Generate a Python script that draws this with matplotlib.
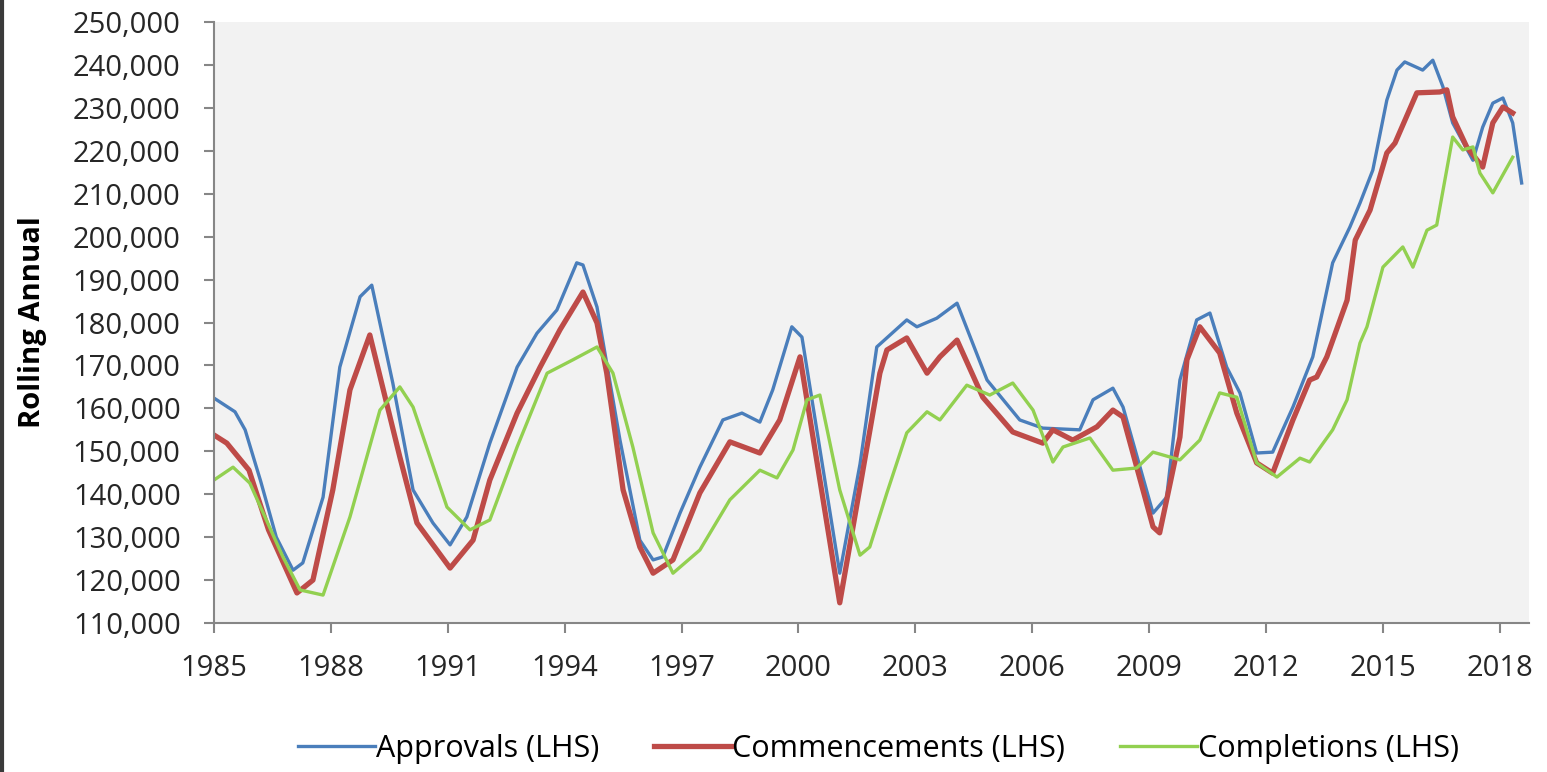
import matplotlib
matplotlib.use("Agg")
import matplotlib.pyplot as plt
from matplotlib.ticker import FuncFormatter

# valori (anni frazionari, migliaia di abitazioni)
appr_year = [1985.0, 1985.54, 1985.8, 1986.2, 1986.6, 1987.03, 1987.28, 1987.80, 1988.23,
             1988.75, 1989.05, 1989.59, 1990.11, 1990.62, 1991.06, 1991.49, 1992.08,
             1992.78, 1993.29, 1993.80, 1994.31, 1994.47, 1994.83, 1995.42, 1995.93,
             1996.27, 1996.52, 1996.96, 1997.47, 1998.06, 1998.55, 1999.01, 1999.34,
             1999.83, 2000.09, 2001.06, 2001.58, 2002.01, 2002.78, 2003.04, 2003.55,
             2004.07, 2004.84, 2005.68, 2006.27, 2007.22, 2007.56, 2008.07, 2008.33,
             2009.10, 2009.45, 2009.79, 2010.22, 2010.56, 2010.99, 2011.33, 2011.76,
             2012.17, 2012.69, 2013.20, 2013.71, 2014.15, 2014.41, 2014.74, 2015.10,
             2015.36, 2015.56, 2016.02, 2016.28, 2016.54, 2016.79, 2017.31, 2017.56,
             2017.82, 2018.08, 2018.33, 2018.56]
appr_val = [162.4, 159.2, 155, 143, 130, 122.3, 124, 139.3, 169.6,
            186, 188.7, 165.9, 141, 133.3, 128.2, 134.7, 151.9,
            169.6, 177.5, 182.9, 193.9, 193.4, 183.6, 152.6, 129.3,
            124.7, 125.4, 135.6, 146.3, 157.3, 158.9, 156.8, 164.3,
            179, 176.6, 121.6, 147, 174.3, 180.6, 179, 181,
            184.5, 166.6, 157.3, 155.4, 155, 162, 164.7, 160.3,
            135.6, 139.3, 166.6, 180.6, 182.2, 169.6, 163.6, 149.6,
            149.8, 160.3, 172, 193.9, 202.2, 207.8, 215.5, 231.8,
            238.8, 240.7, 238.8, 241.1, 234.9, 226.5, 217.8, 225.5,
            231.1, 232.3, 226.5, 212.5]

comm_year = [1985.0, 1985.33, 1985.9, 1986.4, 1987.13, 1987.54, 1988.05, 1988.49, 1989.0,
             1989.77, 1990.21, 1991.06, 1991.65, 1992.08, 1992.78, 1993.37, 1993.88,
             1994.47, 1994.83, 1995.08, 1995.50, 1995.93, 1996.27, 1996.78, 1997.47,
             1998.24, 1999.01, 1999.52, 2000.04, 2001.06, 2002.09, 2002.27, 2002.78,
             2003.30, 2003.63, 2004.07, 2004.73, 2005.50, 2006.27, 2006.53, 2007.04,
             2007.66, 2008.07, 2008.33, 2009.10, 2009.27, 2009.79, 2009.97, 2010.30,
             2010.81, 2011.25, 2011.76, 2012.17, 2012.69, 2013.12, 2013.30, 2013.56,
             2014.08, 2014.29, 2014.67, 2015.10, 2015.31, 2015.87, 2016.46, 2016.64,
             2016.79, 2017.15, 2017.56, 2017.82, 2018.08, 2018.33]
comm_val = [153.8, 151.9, 145.6, 131.7, 117, 120, 141, 164.3, 177.1,
            148.7, 133.3, 122.8, 129.3, 143.3, 158.9, 169.6, 178.3,
            187.1, 179.9, 168.2, 141, 127.7, 121.6, 124.7, 140.3,
            152.2, 149.6, 157.3, 172, 114.7, 168.2, 173.6, 176.4,
            168.2, 172, 175.9, 162.6, 154.5, 151.9, 155, 152.6,
            155.7, 159.6, 158, 132.4, 131, 153.3, 171.3, 179,
            172.9, 158.9, 147.3, 144.9, 157.3, 166.6, 167.3, 172,
            185.2, 199.2, 206.2, 219.5, 221.8, 233.5, 233.7, 234.2,
            227.9, 220.9, 216.2, 226.5, 230.2, 228.8]

comp_year = [1985.0, 1985.49, 1985.92, 1986.77, 1987.21, 1987.80, 1988.49, 1989.26, 1989.77,
             1990.11, 1990.98, 1991.57, 1992.08, 1992.78, 1993.55, 1994.21, 1994.83,
             1995.24, 1995.75, 1996.27, 1996.78, 1997.47, 1998.24, 1999.01, 1999.45,
             1999.86, 2000.22, 2000.55, 2001.06, 2001.58, 2001.83, 2002.27, 2002.78,
             2003.30, 2003.63, 2004.32, 2004.91, 2005.50, 2006.02, 2006.53, 2006.79,
             2007.48, 2008.07, 2008.68, 2009.10, 2009.79, 2010.30, 2010.81, 2011.25,
             2011.76, 2012.28, 2012.87, 2013.12, 2013.71, 2014.08, 2014.41, 2014.59,
             2015.0, 2015.51, 2015.77, 2016.13, 2016.38, 2016.79, 2017.05, 2017.31,
             2017.49, 2017.82, 2018.33]
comp_val = [143.3, 146.3, 142.6, 125.4, 117.7, 116.5, 134.7, 159.6, 165,
            160.3, 137, 131.7, 134, 151, 168.2, 171.3, 174.3,
            168.2, 151, 131, 121.6, 127, 138.7, 145.6, 143.8,
            150.3, 162, 163.1, 141, 125.8, 127.7, 140.3, 154.3,
            159.2, 157.3, 165.4, 163.1, 165.9, 159.6, 147.5, 151,
            153.1, 145.6, 146.1, 149.8, 148, 152.6, 163.6, 162.6,
            147.3, 144, 148.4, 147.5, 155, 162, 175.2, 179,
            192.9, 197.6, 192.9, 201.5, 202.7, 223.2, 220.2, 220.9,
            214.8, 210.2, 218.5]

labels = ["Approvals (LHS)", "Commencements (LHS)", "Completions (LHS)"]
colors = ["#4a7ebb", "#be4b48", "#92d050"]

plt.rcParams['font.family'] = ['Open Sans', 'DejaVu Sans']

fig = plt.figure(figsize=(15.47, 7.72), dpi=100)
ax = fig.add_axes([0.1383, 0.193, 0.8501, 0.7785])
ax.set_facecolor("#f2f2f2")

ax.plot(appr_year, [v * 1000 for v in appr_val], color=colors[0], lw=2.4, label=labels[0])
ax.plot(comm_year, [v * 1000 for v in comm_val], color=colors[1], lw=3.8, label=labels[1])
ax.plot(comp_year, [v * 1000 for v in comp_val], color=colors[2], lw=2.4, label=labels[2])

ax.set_xlim(1985, 2018.75)
ax.set_ylim(110000, 250000)
ax.set_yticks(range(110000, 250001, 10000))
ax.set_xticks(range(1985, 2019, 3))
ax.yaxis.set_major_formatter(FuncFormatter(lambda v, p: f"{int(v):,}"))
ax.tick_params(labelsize=21, colors="#868686", labelcolor="#262626", length=7, width=1.5)
ax.tick_params(axis="y", pad=17)
ax.tick_params(axis="x", pad=15)

for s in ["top", "right"]:
    ax.spines[s].set_visible(False)
for s in ["left", "bottom"]:
    ax.spines[s].set_color("#868686")
    ax.spines[s].set_linewidth(1.5)

ax.set_ylabel("Rolling Annual", fontsize=21, fontweight="bold")
ax.yaxis.set_label_coords(-0.127, 0.5)

fig.legend(loc="center", bbox_to_anchor=(0.568, 0.03), ncol=3, frameon=False,
           fontsize=22, handlelength=2.5, handletextpad=0.05, columnspacing=1.8)

# bordo scuro a sinistra
fig.add_artist(plt.Line2D([0.001, 0.001], [0, 1], color="#3a3a3a", lw=3))

fig.savefig("out.png", dpi=100)
